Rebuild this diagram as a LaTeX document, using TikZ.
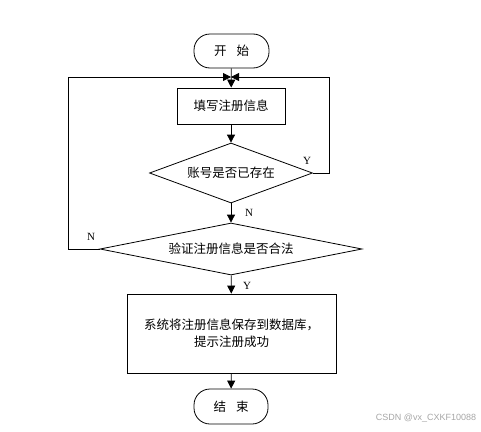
\documentclass[tikz,border=0pt]{standalone}
\usepackage{fontspec}
\setmainfont{Liberation Serif}
\newfontfamily\cjk{Noto Sans CJK SC}
\usetikzlibrary{shapes.geometric,arrows.meta}
\begin{document}
\begin{tikzpicture}[x=1pt,y=-1pt,
  every node/.style={font=\cjk\fontsize{12.5}{17}\selectfont},
  line/.style={draw=black,line width=0.8pt},
  arr/.style={line,-{Triangle[length=8pt,width=8pt]}},
  term/.style={line,rounded corners=16pt,minimum width=75pt,minimum height=34pt,inner sep=0pt},
  procbox/.style={line,inner sep=0pt,align=center},
  decision/.style={line,diamond,inner sep=0pt},
  lab/.style={font=\rmfamily\fontsize{11}{12}\selectfont,inner sep=0pt}]
\useasboundingbox (0,0) rectangle (481,431);
\node[term] (start) at (231.5,51) {开\hspace{0.8em}始};
\node[procbox,minimum width=108pt,minimum height=36pt] (b1) at (231,106) {填写注册信息};
\node[decision,minimum width=163pt,minimum height=60pt,shape aspect=2.7] (d1) at (231,173) {账号是否已存在};
\node[decision,minimum width=262pt,minimum height=52pt,shape aspect=5] (d2) at (231,249) {验证注册信息是否合法};
\node[procbox,minimum width=209pt,minimum height=79pt] (b2) at (231.5,333.5) {系统将注册信息保存到数据库，\\提示注册成功};
\node[term,minimum width=74pt,minimum height=35pt,rounded corners=16pt] (end) at (231,406.5) {结\hspace{0.8em}束};
\coordinate (j) at (231,77);
\coordinate (rc) at (329,77);
\coordinate (lc) at (68,77);
\draw[arr] (start) -- (b1);
\draw[arr] (b1) -- (d1);
\draw[arr] (d1) -- (d2);
\draw[arr] (d2) -- (b2);
\draw[arr] (b2) -- (end);
\draw[arr] (d1.east) -| (rc) -- (j);
\draw[arr] (d2.west) -| (lc) -- (j);
\node[lab] (ly) at (307,161) {Y};
\node[lab] (ln1) at (249,213) {N};
\node[lab] (ln2) at (91,237) {N};
\node[lab] (ly2) at (247,286) {Y};
\node[font=\fontspec{Liberation Sans}\fontsize{9}{10}\selectfont,text=black!35,inner sep=0pt] (wm) at (426,418) {CSDN @vx\_CXKF10088};
\end{tikzpicture}
\end{document}
